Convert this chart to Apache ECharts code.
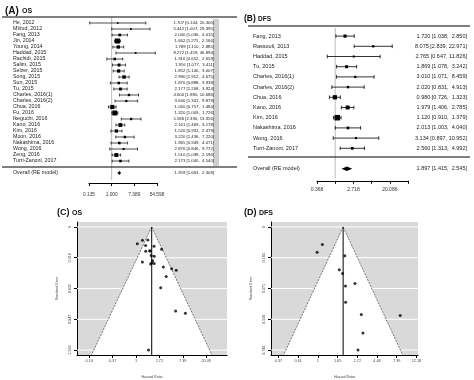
<!DOCTYPE html>
<html><head><meta charset="utf-8">
<script src="https://cdn.jsdelivr.net/npm/echarts@6/dist/echarts.min.js"></script>
<style>html,body{margin:0;padding:0;background:#fff}#c{width:474px;height:380px}</style>
</head><body><div id="c"></div>
<script>
// ---------- DATA ----------
const osStudies = ['He, 2012','Milrud, 2012','Fang, 2013','Jin, 2014','Young, 2014','Haddad, 2015','Rachidi, 2015','Salim, 2015','Selzer, 2015','Song, 2015','Sun, 2015','Tu, 2015','Charles, 2016(1)','Charles, 2016(2)','Chua, 2016','Fu, 2016','Ikeguchi, 2016','Kano, 2016','Kim, 2016','Moon, 2016','Nakashima, 2016','Wong, 2016','Zeng, 2016','Turri-Zanoni, 2017'];
const osHR    = [1.707,5.442,2.040,1.662,1.789,8.272,1.316,1.916,1.852,2.990,1.870,2.177,4.600,3.640,1.060,1.320,5.586,2.161,1.520,3.220,1.965,2.876,1.510,2.173];
const osLower = [0.144,1.007,1.036,1.275,1.110,1.459,0.652,1.077,1.140,1.912,0.888,1.208,1.980,1.341,0.757,1.009,2.336,1.469,0.932,1.436,0.949,0.846,1.038,1.040];
const osUpper = [20.300,29.395,4.015,2.166,2.885,46.894,2.659,3.411,3.007,4.675,3.939,3.924,10.686,9.879,1.484,1.726,13.356,3.178,2.479,7.220,4.071,9.772,2.196,4.540];
const osSE    = [1.262,0.861,0.346,0.135,0.244,0.885,0.359,0.294,0.247,0.228,0.380,0.301,0.430,0.509,0.172,0.137,0.445,0.197,0.250,0.412,0.371,0.624,0.191,0.376];
const osOverall = [1.959, 1.663, 2.309];

const dfsStudies = ['Fang, 2013','Rassouli, 2013','Haddad, 2015','Tu, 2015','Charles, 2016(1)','Charles, 2016(2)','Chua, 2016','Kano, 2016','Kim, 2016','Nakashima, 2016','Wong, 2016','Turri-Zanoni, 2017'];
const dfsHR    = [1.720,8.075,2.765,1.869,3.010,2.020,0.980,1.979,1.120,2.013,3.134,2.560];
const dfsLower = [1.038,2.839,0.647,1.078,1.071,0.831,0.726,1.406,0.910,1.003,0.897,1.313];
const dfsUpper = [2.850,22.971,11.826,3.242,8.459,4.913,1.323,2.785,1.379,4.040,10.952,4.992];
const dfsSE    = [0.258,0.533,0.741,0.281,0.527,0.453,0.153,0.174,0.106,0.355,0.638,0.341];
const dfsOverall = [1.897, 1.415, 2.545];

const forestTickLabelsA = ['0.135','1.000','7.389','54.598'];      // ln = -2,0,2,4
const forestTickLabelsB = ['0.368','','2.718','','20.086',''];     // ln = -1..4
const funnelXTicksC = [-2,-1,0,1,2,3];
const funnelXLabelsC = ['0.14','0.37','1','2.72','7.39','20.09'];
const funnelYTicksC = [0,0.316,0.632,0.947,1.263];
const funnelXTicksD = [-1,-0.5,0,0.5,1,1.5,2,2.5];
const funnelXLabelsD = ['0.37','0.61','1','1.65','2.72','4.48','7.39','12.18'];
const funnelYTicksD = [0,0.185,0.371,0.556,0.741];

// ---------- BUILD ----------
const FONT = '"Liberation Sans", Arial, sans-serif';
const fmtCI = (e,l,u) => e.toFixed(3)+' ['+l.toFixed(3)+', '+u.toFixed(3).padStart(6,' ')+']';
const labelsA = osStudies.concat(['', 'Overall (RE model)']);
const ciA = osHR.map((h,i)=>fmtCI(h,osLower[i],osUpper[i])).concat(['', fmtCI(osOverall[0],osOverall[1],osOverall[2])]);
const labelsB = dfsStudies.concat(['', 'Overall (RE model)']);
const ciB = dfsHR.map((h,i)=>fmtCI(h,dfsLower[i],dfsUpper[i])).concat(['', fmtCI(dfsOverall[0],dfsOverall[1],dfsOverall[2])]);

const rowsA = osHR.map((h,i)=>[i, Math.log(h), Math.log(osLower[i]), Math.log(osUpper[i]), osSE[i]]);
const rowsB = dfsHR.map((h,i)=>[i, Math.log(h), Math.log(dfsLower[i]), Math.log(dfsUpper[i]), dfsSE[i]]);
const minSEA = Math.min.apply(null, osSE), minSEB = Math.min.apply(null, dfsSE);

function forestItem(capH, lw, base, span, minSE){
  return function(params, api){
    const row = api.value(0);
    const p = api.coord([api.value(1), row]);
    const pl = api.coord([api.value(2), row]);
    const pu = api.coord([api.value(3), row]);
    const s = base + span*(minSE/api.value(4));
    const st = {stroke:'#000', lineWidth:lw};
    return {type:'group', children:[
      {type:'line', shape:{x1:pl[0],y1:p[1],x2:pu[0],y2:p[1]}, style:st},
      {type:'line', shape:{x1:pl[0],y1:p[1]-capH,x2:pl[0],y2:p[1]+capH}, style:st},
      {type:'line', shape:{x1:pu[0],y1:p[1]-capH,x2:pu[0],y2:p[1]+capH}, style:st},
      {type:'rect', shape:{x:p[0]-s/2,y:p[1]-s/2,width:s,height:s}, style:{fill:'#000'}}
    ]};
  };
}
function diamondItem(h){
  return function(params, api){
    const row = api.value(0);
    const p = api.coord([api.value(1), row]);
    const pl = api.coord([api.value(2), row]);
    const pu = api.coord([api.value(3), row]);
    return {type:'polygon', shape:{points:[[pl[0],p[1]],[p[0],p[1]-h],[pu[0],p[1]],[p[0],p[1]+h]]}, style:{fill:'#000'}};
  };
}
function reflineItem(params, api){
  const cs = params.coordSys;
  const x = api.coord([api.value(0), 0])[0];
  return {type:'line', shape:{x1:x,y1:cs.y-3,x2:x,y2:cs.y+cs.height+4}, style:{stroke:'#bbb', lineWidth:1}};
}
function whiteLineItem(params, api){
  const cs = params.coordSys;
  const y = api.coord([0, api.value(1)])[1];
  return {type:'line', shape:{x1:cs.x,y1:y,x2:cs.x+cs.width,y2:y}, style:{stroke:'#fff', lineWidth:1}};
}
function funnelItem(ymax){
  return function(params, api){
    const est = api.value(0);
    const a = api.coord([est, 0]);
    const l = api.coord([est-1.96*ymax, ymax]);
    const r = api.coord([est+1.96*ymax, ymax]);
    const b = api.coord([est, ymax]);
    const ds = {stroke:'#555', lineWidth:0.8, lineDash:[2,1.2]};
    return {type:'group', children:[
      {type:'polygon', shape:{points:[a,l,r]}, style:{fill:'#fff'}},
      {type:'line', shape:{x1:a[0],y1:a[1],x2:l[0],y2:l[1]}, style:ds},
      {type:'line', shape:{x1:a[0],y1:a[1],x2:r[0],y2:r[1]}, style:ds},
      {type:'line', shape:{x1:a[0],y1:a[1],x2:b[0],y2:b[1]}, style:{stroke:'#000', lineWidth:1}}
    ]};
  };
}
function lookup(ticks, labels){
  return v => { const i = ticks.findIndex(t=>Math.abs(t-v)<1e-6); return i<0?'':labels[i]; };
}

const C_YMAX = 1.313, D_YMAX = 0.771;

const catAxis = (grid, data, pos, margin, align, size) => ({
  gridIndex:grid, type:'category', inverse:true, data:data, position:pos,
  axisLine:{show:false, onZero:false}, axisTick:{show:false}, splitLine:{show:false},
  axisLabel:{interval:0, margin:margin, align:align, fontSize:size, color:'#222', fontFamily:FONT, hideOverlap:false}
});
const funnelX = (grid, min, max, ticks, labels) => ({
  gridIndex:grid, type:'value', min:min, max:max,
  axisLine:{show:true, onZero:false, lineStyle:{color:'#000', width:1}},
  axisTick:{show:true, length:3, customValues:ticks, lineStyle:{color:'#000'}},
  axisLabel:{customValues:ticks, formatter:lookup(ticks, labels), fontSize:3.8, color:'#444', margin:4, fontFamily:FONT},
  splitLine:{show:false},
  name:'Hazard Ratio', nameLocation:'middle', nameGap:20, nameTextStyle:{fontSize:3.6, color:'#444', fontFamily:FONT}
});
const funnelY = (grid, min, max, ticks) => ({
  gridIndex:grid, type:'value', inverse:true, min:min, max:max,
  axisLine:{show:true, onZero:false, lineStyle:{color:'#000', width:1}},
  axisTick:{show:true, length:3, customValues:ticks, lineStyle:{color:'#000'}},
  axisLabel:{customValues:ticks, formatter:v=>String(v), rotate:90, fontSize:3.8, color:'#444', margin:5, fontFamily:FONT},
  splitLine:{show:false},
  name:'Standard Error', nameLocation:'middle', nameGap:18, nameTextStyle:{fontSize:3.6, color:'#444', fontFamily:FONT}
});

const titleText = (x, y, t, size) => ({type:'text', x:x, y:y, z:10,
  style:{text:t, font:'bold '+size+'px '+FONT, fill:'#111', align:'left', verticalAlign:'middle', textAlign:'left', textVerticalAlign:'middle'}});
const hline = (x1, x2, y) => ({type:'line', z:10, shape:{x1:x1,y1:y,x2:x2,y2:y}, style:{stroke:'#000', lineWidth:1.2}});

const option = {
  animation:false,
  backgroundColor:'#fff',
  textStyle:{fontFamily:FONT},
  grid:[
    {left:89, top:20, width:68, height:156},
    {left:317, top:31, width:91, height:142.8},
    {left:77, top:222, width:150, height:133, show:true, backgroundColor:'#d9d9d9', borderWidth:0},
    {left:271, top:222, width:147, height:133, show:true, backgroundColor:'#d9d9d9', borderWidth:0}
  ],
  xAxis:[
    {gridIndex:0, type:'value', min:-2, max:4, interval:2, offset:7,
     axisLine:{show:true, onZero:false, lineStyle:{color:'#000', width:1}},
     axisTick:{show:true, length:3, lineStyle:{color:'#000'}},
     axisLabel:{formatter:v=>forestTickLabelsA[Math.round((v+2)/2)], fontSize:4.8, color:'#333', margin:9, fontFamily:FONT},
     splitLine:{show:false}},
    {gridIndex:1, type:'value', min:-1, max:4, interval:1, offset:7,
     axisLine:{show:true, onZero:false, lineStyle:{color:'#000', width:1}},
     axisTick:{show:true, length:3, lineStyle:{color:'#000'}},
     axisLabel:{formatter:v=>forestTickLabelsB[Math.round(v+1)], fontSize:5, color:'#333', margin:6, fontFamily:FONT},
     splitLine:{show:false}},
    funnelX(2, -2.52, 3.89, funnelXTicksC, funnelXLabelsC),
    funnelX(3, -1.19, 2.54, funnelXTicksD, funnelXLabelsD)
  ],
  yAxis:[
    catAxis(0, labelsA, 'left', 76, 'left', 5.3),
    catAxis(0, ciA, 'right', 57, 'right', 4.3),
    catAxis(1, labelsB, 'left', 64, 'left', 5.5),
    catAxis(1, ciB, 'right', 59, 'right', 5.5),
    funnelY(2, -0.0505, C_YMAX, funnelYTicksC),
    funnelY(3, -0.0297, D_YMAX, funnelYTicksD)
  ],
  series:[
    // Panel A
    {type:'custom', xAxisIndex:0, yAxisIndex:0, z:1, data:[[0,0]], encode:{x:0,y:1}, renderItem:reflineItem},
    {type:'custom', xAxisIndex:0, yAxisIndex:0, z:2, data:rowsA, encode:{x:[1,2,3], y:0}, renderItem:forestItem(1.5, 0.7, 1.2, 3.8, minSEA)},
    {type:'custom', xAxisIndex:0, yAxisIndex:0, z:2, data:[[osStudies.length+1, Math.log(osOverall[0]), Math.log(osOverall[1]), Math.log(osOverall[2])]], encode:{x:[1,2,3], y:0}, renderItem:diamondItem(2)},
    // Panel B
    {type:'custom', xAxisIndex:1, yAxisIndex:2, z:1, data:[[0,0]], encode:{x:0,y:1}, renderItem:reflineItem},
    {type:'custom', xAxisIndex:1, yAxisIndex:2, z:2, data:rowsB, encode:{x:[1,2,3], y:0}, renderItem:forestItem(1.8, 0.8, 1.5, 4, minSEB)},
    {type:'custom', xAxisIndex:1, yAxisIndex:2, z:2, data:[[dfsStudies.length+1, Math.log(dfsOverall[0]), Math.log(dfsOverall[1]), Math.log(dfsOverall[2])]], encode:{x:[1,2,3], y:0}, renderItem:diamondItem(2.2)},
    // Panel C
    {type:'custom', xAxisIndex:2, yAxisIndex:4, z:1, data:funnelYTicksC.map(v=>[0,v]), encode:{x:0,y:1}, renderItem:whiteLineItem},
    {type:'custom', xAxisIndex:2, yAxisIndex:4, z:2, data:[[Math.log(osOverall[0]),0]], encode:{x:0,y:1}, renderItem:funnelItem(C_YMAX)},
    {type:'scatter', xAxisIndex:2, yAxisIndex:4, z:3, symbol:'circle', symbolSize:3, itemStyle:{color:'#000'}, data:osHR.map((h,i)=>[Math.log(h), osSE[i]])},
    // Panel D
    {type:'custom', xAxisIndex:3, yAxisIndex:5, z:1, data:funnelYTicksD.map(v=>[0,v]), encode:{x:0,y:1}, renderItem:whiteLineItem},
    {type:'custom', xAxisIndex:3, yAxisIndex:5, z:2, data:[[Math.log(dfsOverall[0]),0]], encode:{x:0,y:1}, renderItem:funnelItem(D_YMAX)},
    {type:'scatter', xAxisIndex:3, yAxisIndex:5, z:3, symbol:'circle', symbolSize:3, itemStyle:{color:'#000'}, data:dfsHR.map((h,i)=>[Math.log(h), dfsSE[i]])}
  ],
  graphic:[
    titleText(5, 11, '(A)', 10), titleText(22, 11.5, 'OS', 7),
    titleText(244, 19, '(B)', 8.5), titleText(258, 19.5, 'DFS', 6.5),
    titleText(57, 213, '(C)', 9), titleText(72, 213.5, 'OS', 7),
    titleText(244, 213, '(D)', 9), titleText(259, 213.5, 'DFS', 7),
    hline(2, 237, 17), hline(2, 237, 167),
    hline(248, 470, 26), hline(248, 470, 157),
    {type:'rect', z:0, shape:{x:213, y:19, width:6, height:147}, style:{fill:'#cfcfcf'}}
  ]
};

const chart = echarts.init(document.getElementById('c'), null, {renderer:'canvas'});
chart.setOption(option);
</script></body></html>
